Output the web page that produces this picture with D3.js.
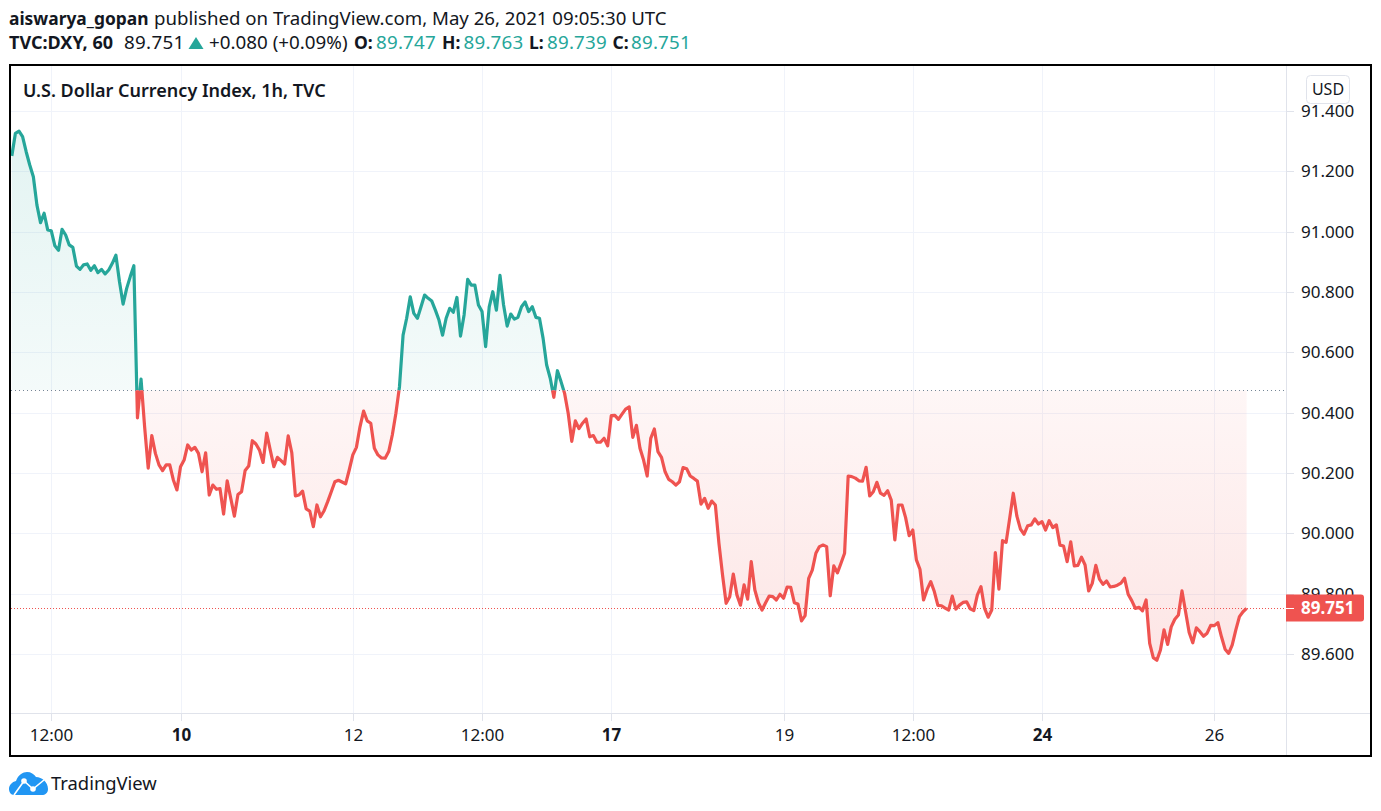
<!DOCTYPE html>
<html>
<head>
<meta charset="utf-8">
<style>
  html, body { margin: 0; padding: 0; background: #fff; }
  text { font-family: "Noto Sans", sans-serif; fill: #131722; }
</style>
</head>
<body>
<script src="https://cdn.jsdelivr.net/npm/d3@7"></script>
<script>
// hourly closes, one per bar
const closes = [
  91.251, 91.326, 91.333, 91.315, 91.265, 91.221, 91.182, 91.088, 91.030, 91.061,
  91.006, 91.003, 90.953, 90.938, 91.008, 90.989, 90.956, 90.948, 90.886, 90.875,
  90.890, 90.893, 90.872, 90.887, 90.864, 90.875, 90.860, 90.873, 90.895, 90.922,
  90.834, 90.760, 90.812, 90.851, 90.887, 90.383, 90.511, 90.353, 90.216, 90.324,
  90.265, 90.227, 90.208, 90.227, 90.227, 90.177, 90.144, 90.221, 90.243, 90.293,
  90.276, 90.285, 90.265, 90.204, 90.267, 90.127, 90.160, 90.146, 90.148, 90.064,
  90.174, 90.116, 90.057, 90.129, 90.138, 90.208, 90.223, 90.307, 90.296, 90.276,
  90.235, 90.332, 90.276, 90.221, 90.252, 90.241, 90.230, 90.323, 90.267, 90.124,
  90.127, 90.140, 90.081, 90.074, 90.022, 90.094, 90.055, 90.075, 90.105, 90.138,
  90.171, 90.176, 90.170, 90.164, 90.210, 90.260, 90.285, 90.353, 90.405, 90.373,
  90.365, 90.282, 90.260, 90.250, 90.249, 90.271, 90.326, 90.398, 90.486, 90.657,
  90.713, 90.784, 90.729, 90.713, 90.751, 90.790, 90.779, 90.770, 90.740, 90.707,
  90.657, 90.713, 90.746, 90.733, 90.782, 90.654, 90.724, 90.842, 90.823, 90.823,
  90.757, 90.735, 90.619, 90.751, 90.801, 90.740, 90.855, 90.757, 90.687, 90.727,
  90.710, 90.716, 90.751, 90.767, 90.735, 90.751, 90.716, 90.713, 90.647, 90.558,
  90.514, 90.451, 90.539, 90.503, 90.464, 90.398, 90.305, 90.373, 90.347, 90.365,
  90.379, 90.320, 90.324, 90.302, 90.302, 90.315, 90.290, 90.390, 90.391, 90.378,
  90.395, 90.412, 90.419, 90.318, 90.358, 90.282, 90.243, 90.190, 90.315, 90.346,
  90.271, 90.252, 90.204, 90.179, 90.171, 90.160, 90.171, 90.218, 90.214, 90.190,
  90.182, 90.173, 90.097, 90.116, 90.083, 90.107, 90.094, 89.967, 89.862, 89.768,
  89.790, 89.865, 89.796, 89.762, 89.829, 89.782, 89.906, 89.812, 89.770, 89.746,
  89.770, 89.792, 89.790, 89.779, 89.798, 89.785, 89.822, 89.821, 89.770, 89.766,
  89.710, 89.727, 89.851, 89.878, 89.934, 89.956, 89.961, 89.956, 89.793, 89.892,
  89.869, 89.901, 89.934, 90.190, 90.188, 90.183, 90.174, 90.173, 90.219, 90.124,
  90.138, 90.169, 90.133, 90.126, 90.141, 90.110, 89.978, 90.094, 90.094, 90.052,
  89.992, 90.011, 89.912, 89.881, 89.779, 89.814, 89.840, 89.807, 89.761, 89.760,
  89.752, 89.746, 89.792, 89.749, 89.762, 89.771, 89.773, 89.750, 89.744, 89.796,
  89.823, 89.751, 89.722, 89.746, 89.936, 89.815, 89.976, 89.970, 90.050, 90.133,
  90.057, 90.014, 89.997, 90.025, 90.028, 90.048, 90.031, 90.039, 90.011, 90.042,
  90.019, 90.028, 89.961, 89.958, 89.906, 89.972, 89.892, 89.894, 89.921, 89.895,
  89.809, 89.834, 89.894, 89.848, 89.831, 89.842, 89.822, 89.824, 89.828, 89.835,
  89.851, 89.798, 89.777, 89.751, 89.755, 89.743, 89.779, 89.635, 89.588, 89.579,
  89.613, 89.680, 89.632, 89.690, 89.715, 89.729, 89.809, 89.740, 89.671, 89.637,
  89.687, 89.674, 89.659, 89.669, 89.695, 89.694, 89.704, 89.657, 89.616, 89.602,
  89.630, 89.680, 89.724, 89.740, 89.751
];

const baseValue = 90.474;
const lastValue = 89.751;

const priceTicks = [91.4, 91.2, 91.0, 90.8, 90.6, 90.4, 90.2, 90.0, 89.8, 89.6];
const timeBars = [11, 47, 95, 131, 167, 215, 251, 287, 335];
const timeLabels = ["12:00", "10", "12", "12:00", "17", "19", "12:00", "24", "26"];
const timeBold = ["10", "17", "24"];

const ohlcKeys = ["O:", "H:", "L:", "C:"];
const ohlcValues = ["89.747", "89.763", "89.739", "89.751"];

const width = 1381, height = 811;
const plotLeft = 11, plotRight = 1286, plotTop = 66, plotBottom = 713, frameRight = 1370, frameBottom = 755;

const green = "#26a69a", red = "#ef5350", grid = "#f0f3fa", axisLine = "#e0e3eb";

const svg = d3.select("body").append("svg")
  .attr("width", width)
  .attr("height", height)
  .style("display", "block");

const x = d3.scaleLinear().domain([11, 335]).range([51.3, 1214.3]);
const y = d3.scaleLinear().domain([89.6, 91.4]).range([654, 111]);

const defs = svg.append("defs");

const clipRect = (id, y0, y1) => defs.append("clipPath").attr("id", id)
  .append("rect").attr("x", plotLeft).attr("y", y0).attr("width", plotRight - plotLeft).attr("height", y1 - y0);
clipRect("above", plotTop, y(baseValue));
clipRect("below", y(baseValue), plotBottom);

const gradient = (id, y0, y1, stops) => defs.append("linearGradient")
  .attr("id", id)
  .attr("gradientUnits", "userSpaceOnUse")
  .attr("x1", 0).attr("x2", 0).attr("y1", y0).attr("y2", y1)
  .selectAll("stop").data(stops).join("stop")
  .attr("offset", (d) => d[0])
  .attr("stop-color", (d) => d[1])
  .attr("stop-opacity", (d) => d[2]);
gradient("fillAbove", y(d3.max(closes)), y(baseValue), [[0, green, 0.13], [1, green, 0.05]]);
gradient("fillBelow", y(baseValue), y(d3.min(closes)), [[0, red, 0.05], [1, red, 0.15]]);

// grid
svg.append("g").selectAll("line").data(priceTicks).join("line")
  .attr("x1", plotLeft).attr("x2", plotRight)
  .attr("y1", (d) => Math.round(y(d)) + 0.5).attr("y2", (d) => Math.round(y(d)) + 0.5)
  .attr("stroke", grid);
svg.append("g").selectAll("line").data(timeBars).join("line")
  .attr("x1", (d) => Math.round(x(d)) + 0.5).attr("x2", (d) => Math.round(x(d)) + 0.5)
  .attr("y1", plotTop).attr("y2", plotBottom)
  .attr("stroke", grid);

// baseline area and line
const area = d3.area()
  .x((d, i) => x(i))
  .y0(y(baseValue))
  .y1((d) => y(d));
const line = d3.line()
  .x((d, i) => x(i))
  .y((d) => y(d));

svg.append("path").attr("d", area(closes)).attr("fill", "url(#fillAbove)").attr("clip-path", "url(#above)");
svg.append("path").attr("d", area(closes)).attr("fill", "url(#fillBelow)").attr("clip-path", "url(#below)");

const drawLine = (color, clip) => svg.append("path")
  .attr("d", line(closes))
  .attr("fill", "none")
  .attr("stroke", color)
  .attr("stroke-width", 3.2)
  .attr("stroke-linejoin", "round")
  .attr("clip-path", `url(#${clip})`);
drawLine(green, "above");
drawLine(red, "below");

// dotted base and last price lines
svg.append("line")
  .attr("x1", plotLeft).attr("x2", plotRight)
  .attr("y1", Math.round(y(baseValue)) + 0.5).attr("y2", Math.round(y(baseValue)) + 0.5)
  .attr("stroke", "#758696").attr("stroke-dasharray", "1 3");
svg.append("line")
  .attr("x1", plotLeft).attr("x2", plotRight)
  .attr("y1", Math.round(y(lastValue)) + 0.5).attr("y2", Math.round(y(lastValue)) + 0.5)
  .attr("stroke", red).attr("stroke-dasharray", "1 2");

// axes lines
svg.append("line").attr("x1", plotRight + 0.5).attr("x2", plotRight + 0.5).attr("y1", plotTop).attr("y2", frameBottom).attr("stroke", axisLine);
svg.append("line").attr("x1", plotLeft).attr("x2", frameRight).attr("y1", plotBottom + 0.5).attr("y2", plotBottom + 0.5).attr("stroke", axisLine);

// price scale
const priceAxis = svg.append("g").selectAll("g").data(priceTicks).join("g")
  .attr("transform", (d) => `translate(0,${Math.round(y(d)) + 0.5})`);
priceAxis.append("line").attr("x1", plotRight).attr("x2", plotRight + 8).attr("stroke", axisLine);
priceAxis.append("text")
  .attr("x", 1301).attr("dy", "0.35em")
  .attr("font-size", 17)
  .text((d) => d.toFixed(3));

// last price label
const lastLabel = svg.append("g").attr("transform", `translate(0,${Math.round(y(lastValue))})`);
lastLabel.append("path")
  .attr("d", "M1286,-13.5H1361a3,3 0 0 1 3,3V10.5a3,3 0 0 1 -3,3H1286Z")
  .attr("fill", red);
lastLabel.append("line").attr("x1", plotRight).attr("x2", plotRight + 8).attr("y1", 0.5).attr("y2", 0.5).attr("stroke", "#fff");
lastLabel.append("text")
  .attr("x", 1301).attr("dy", "0.36em")
  .attr("font-size", 17).attr("font-weight", 700)
  .style("fill", "#fff")
  .text(lastValue.toFixed(3));

// time scale
const timeAxis = svg.append("g").selectAll("g").data(timeBars).join("g")
  .attr("transform", (d) => `translate(${Math.round(x(d)) + 0.5},0)`);
timeAxis.append("line").attr("y1", plotBottom).attr("y2", plotBottom + 8).attr("stroke", axisLine);
timeAxis.append("text")
  .attr("y", 741)
  .attr("text-anchor", "middle")
  .attr("font-size", 17)
  .attr("font-weight", (d, i) => (timeBold.includes(timeLabels[i]) ? 700 : 400))
  .text((d, i) => timeLabels[i]);

// currency badge
svg.append("rect")
  .attr("x", 1306.5).attr("y", 75.5).attr("width", 43).attr("height", 28).attr("rx", 4)
  .attr("fill", "#fff").attr("stroke", axisLine);
svg.append("text").attr("x", 1328).attr("y", 95).attr("text-anchor", "middle").attr("font-size", 16).text("USD");

// chart title
svg.append("text").attr("x", 23).attr("y", 97).attr("font-size", 18).attr("font-weight", 600).text("U.S. Dollar Currency Index, 1h, TVC");

// frame
svg.append("rect")
  .attr("x", 10).attr("y", 65).attr("width", 1361).attr("height", 691)
  .attr("fill", "none").attr("stroke", "#000").attr("stroke-width", 2);

// header lines
const head1 = svg.append("text").attr("y", 25);
head1.append("tspan").attr("x", 9).attr("font-size", 17.4).attr("font-weight", 700).text("aiswarya_gopan");
head1.append("tspan").attr("x", 154).attr("font-size", 18.65).text("published on TradingView.com, May 26, 2021 09:05:30 UTC");

const head2 = svg.append("text").attr("y", 49).attr("font-size", 18.8);
head2.append("tspan").attr("x", 9).attr("font-size", 18).attr("font-weight", 700).text("TVC:DXY, 60");
head2.append("tspan").attr("x", 124).attr("letter-spacing", 0.3).text("89.751");
head2.append("tspan").attr("x", 209).text("+0.080 (+0.09%)");

const keyX = [354, 442, 529, 612.5];
const valueX = [376, 463.5, 547, 631];
ohlcKeys.forEach((k, i) => {
  head2.append("tspan").attr("x", keyX[i]).attr("font-size", 17.5).attr("font-weight", 700).text(k);
  head2.append("tspan").attr("x", valueX[i]).attr("letter-spacing", 0.2).style("fill", green).text(ohlcValues[i]);
});
svg.append("path").attr("d", d3.line()([[188.5, 49], [196, 37], [203.5, 49]]) + "Z").attr("fill", green);

// logo
svg.append("path")
  .attr("d", "M9,789C9,785 12,782 16,781C18,775 23,772 27,772C31,772 34,774 36,777C42,777 48,782 48,789C48,793 45,795 42,795H14C11,795 9,792 9,789Z")
  .attr("fill", "#2196f3");
svg.append("path")
  .attr("d", d3.line()([[14, 795], [24, 781], [33, 789], [44, 780]]))
  .attr("fill", "none").attr("stroke", "#fff").attr("stroke-width", 1.6);
svg.append("g").selectAll("circle").data([[24, 781], [33, 789]]).join("circle")
  .attr("cx", (d) => d[0]).attr("cy", (d) => d[1]).attr("r", 2.8).attr("fill", "#fff");
svg.append("text").attr("x", 51).attr("y", 790).attr("font-size", 18.4).text("TradingView");
</script>
</body>
</html>
